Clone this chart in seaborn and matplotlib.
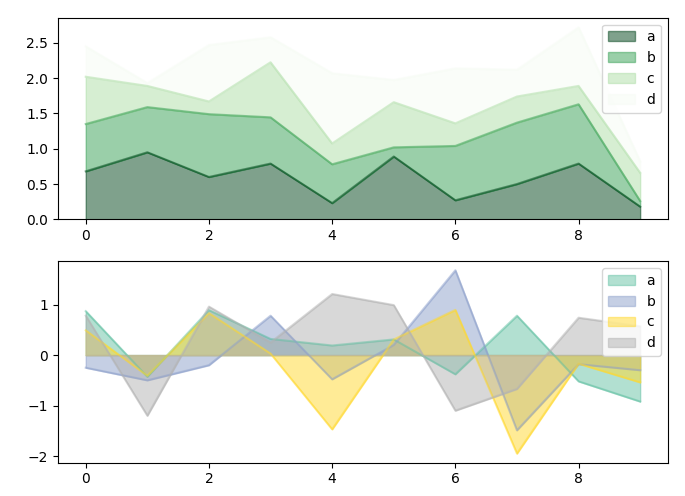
import numpy as np
import pandas as pd
import matplotlib
matplotlib.use("Agg")
import matplotlib.pyplot as plt
import seaborn as sns

x = list(range(10))
labels = ["a", "b", "c", "d"]

# top panel: stacked area values (per series, not cumulative)
top_a = [0.68, 0.95, 0.60, 0.79, 0.23, 0.89, 0.27, 0.50, 0.79, 0.18]
top_b = [0.67, 0.64, 0.89, 0.655, 0.55, 0.13, 0.77, 0.87, 0.84, 0.08]
top_c = [0.67, 0.30, 0.18, 0.78, 0.295, 0.64, 0.32, 0.37, 0.26, 0.40]
top_d = [0.43, 0.04, 0.80, 0.355, 0.995, 0.315, 0.78, 0.38, 0.83, 0.16]

# bottom panel: unstacked area values
bot_a = [0.87, -0.43, 0.89, 0.32, 0.19, 0.31, -0.38, 0.78, -0.52, -0.92]
bot_b = [-0.25, -0.50, -0.20, 0.78, -0.48, 0.20, 1.68, -1.49, -0.18, -0.30]
bot_c = [0.49, -0.41, 0.83, 0.03, -1.47, 0.31, 0.895, -1.95, -0.17, -0.54]
bot_d = [0.78, -1.20, 0.96, 0.25, 1.21, 0.99, -1.10, -0.67, 0.74, 0.57]

df_top = pd.DataFrame({"a": top_a, "b": top_b, "c": top_c, "d": top_d}, index=x)
df_bot = pd.DataFrame({"a": bot_a, "b": bot_b, "c": bot_c, "d": bot_d}, index=x)

greens = sns.color_palette("Greens_r", as_cmap=True)
top_colors = [greens(v) for v in np.linspace(0, 1, 4)]
set2 = sns.color_palette("Set2", 8)
bot_colors = [set2[i] for i in (0, 2, 5, 7)]

fig, (ax1, ax2) = plt.subplots(2, 1, figsize=(6.85, 4.96), dpi=100)
fig.subplots_adjust(left=0.0847, right=0.975, top=0.9643, bottom=0.0671, hspace=0.207)

# stacked area
base = np.zeros(len(x))
for lab, col in zip(labels, top_colors):
    vals = df_top[lab].to_numpy()
    top = base + vals
    sns.lineplot(x=x, y=top, ax=ax1, color=col, alpha=0.5, linewidth=1.5, legend=False)
    ax1.fill_between(x, base, top, color=col, alpha=0.5, label=lab)
    base = top
ax1.set_ylim(bottom=0)
ax1.legend(loc="upper right")

# unstacked area
for lab, col in zip(labels, bot_colors):
    vals = df_bot[lab].to_numpy()
    sns.lineplot(x=x, y=vals, ax=ax2, color=col, alpha=0.5, linewidth=1.5, legend=False)
    ax2.fill_between(x, 0, vals, color=col, alpha=0.5, label=lab)
ax2.legend(loc="upper right")

for ax in (ax1, ax2):
    ax.set_xlabel("")
    ax.set_ylabel("")
    ax.set_xticks([0, 2, 4, 6, 8])

fig.savefig("out.png", dpi=100)
